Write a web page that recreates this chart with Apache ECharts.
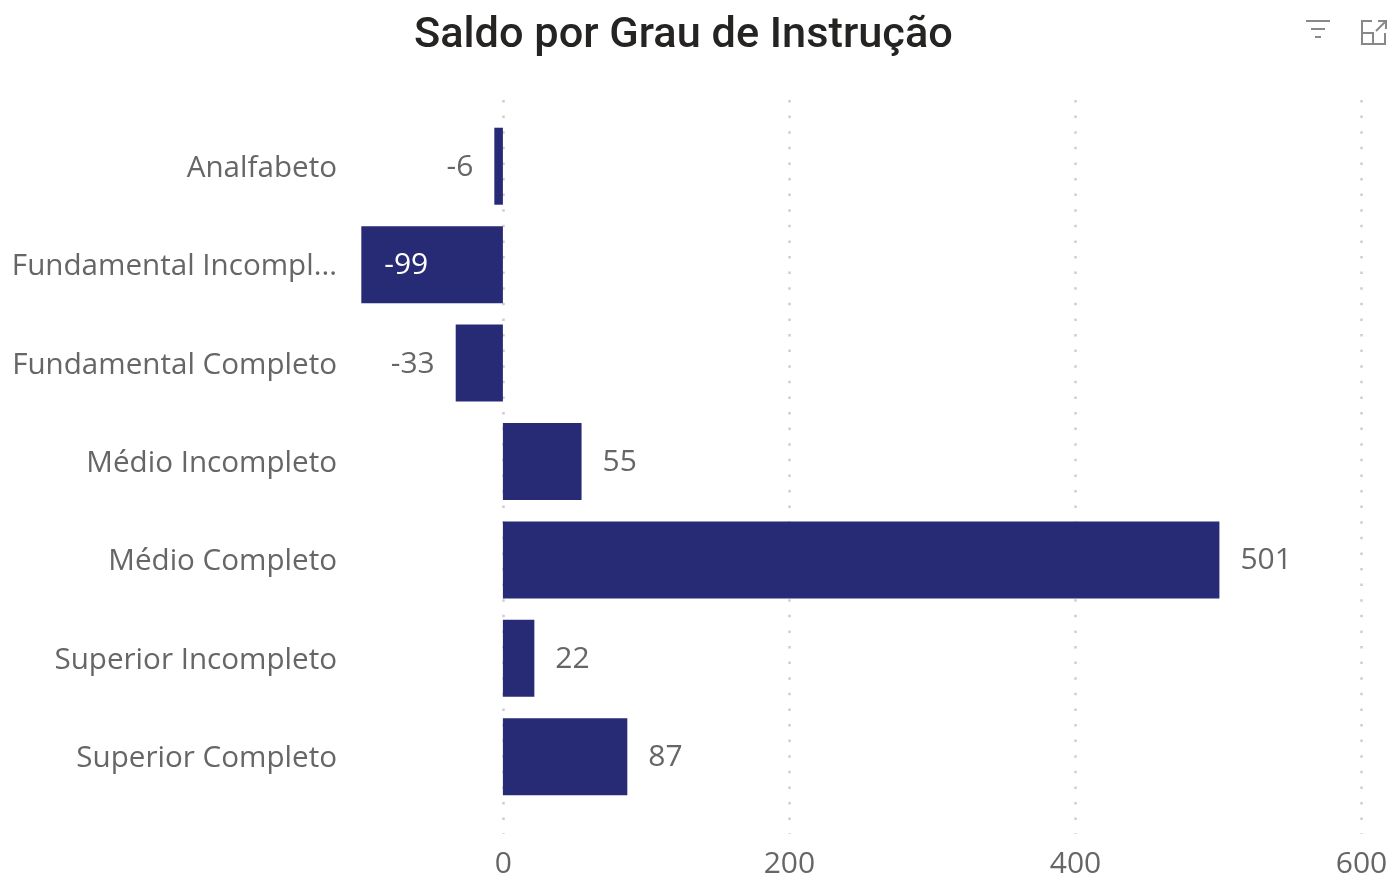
<!DOCTYPE html>
<html>
<head>
<meta charset="utf-8">
<title>Saldo por Grau de Instrução</title>
<script src="https://cdn.jsdelivr.net/npm/echarts@6/dist/echarts.min.js"></script>
<style>
  html, body { margin: 0; padding: 0; background: #fff; }
  #chart { width: 1391px; height: 878px; }
</style>
</head>
<body>
<div id="chart"></div>
<script>
const categories = ['Analfabeto', 'Fundamental Incompleto', 'Fundamental Completo', 'Médio Incompleto', 'Médio Completo', 'Superior Incompleto', 'Superior Completo'];
const saldo = [-6, -99, -33, 55, 501, 22, 87];
const xTicks = [0, 200, 400, 600];

const labelFont = '"Open Sans", "Noto Sans", sans-serif';
const textColor = '#666666';
const barColor = '#272a75';
const iconColor = '#8a8886';
// the plot starts at the end of the category labels, left of the -99 bar
const xMin = -116;
const xMax = 600;

// the bar that is long enough carries its label inside, in white
function barLabel(value) {
  if (value <= -90) return { position: 'insideLeft', distance: 23, color: '#ffffff' };
  return { position: value < 0 ? 'left' : 'right', color: textColor };
}

function iconLine(x1, y1, x2, y2) {
  return { type: 'line', shape: { x1: x1, y1: y1, x2: x2, y2: y2 }, style: { stroke: iconColor, lineWidth: 2 } };
}

const chart = echarts.init(document.getElementById('chart'));
chart.setOption({
  animation: false,
  backgroundColor: '#ffffff',
  title: {
    text: 'Saldo por Grau de Instrução',
    left: 409,
    top: 10,
    textStyle: { fontFamily: 'Roboto', fontWeight: 500, fontSize: 43.3, color: '#252423' }
  },
  grid: [
    // the dotted lines run past the bars, so they get their own taller grid
    { left: 337.5, right: 29.5, top: 100, height: 734, outerBoundsMode: 'none' },
    { left: 337, right: 30, top: 117, height: 689, outerBoundsMode: 'none' }
  ],
  xAxis: [
    {
      gridIndex: 0,
      type: 'value',
      min: xMin,
      max: xMax,
      axisLine: { show: false },
      axisTick: { show: false, customValues: xTicks },
      splitLine: { show: true, lineStyle: { color: '#d0cecc', width: 2.5, type: [2.5, 13.1] } },
      axisLabel: { customValues: xTicks, margin: 15, color: textColor, fontFamily: labelFont, fontSize: 30 }
    },
    { gridIndex: 1, type: 'value', min: xMin, max: xMax, show: false, splitLine: { show: false } }
  ],
  yAxis: [
    { gridIndex: 0, type: 'category', data: categories, show: false },
    {
      gridIndex: 1,
      type: 'category',
      data: categories,
      inverse: true,
      axisLine: { show: false },
      axisTick: { show: false },
      axisLabel: {
        margin: 0,
        width: 330,
        overflow: 'truncate',
        ellipsis: '...',
        verticalAlign: 'top',
        padding: [-13, 0, 0, 0],
        color: textColor,
        fontFamily: labelFont,
        fontSize: 29.6
      }
    }
  ],
  series: [
    {
      type: 'bar',
      xAxisIndex: 1,
      yAxisIndex: 1,
      barWidth: 77,
      itemStyle: { color: barColor },
      label: { show: true, distance: 21, offset: [0, 1], fontFamily: labelFont, fontSize: 30 },
      data: saldo.map(function (v) {
        return { value: v, label: barLabel(v) };
      })
    }
  ],
  graphic: [
    // filter icon
    iconLine(1306, 21, 1330, 21),
    iconLine(1311, 29, 1325, 29),
    iconLine(1315, 37, 1321, 37),
    // focus mode icon
    { type: 'polyline', shape: { points: [[1372, 21], [1362, 21], [1362, 44], [1385, 44], [1385, 33]] }, style: { stroke: iconColor, lineWidth: 2, fill: null } },
    { type: 'polyline', shape: { points: [[1362, 33], [1373, 33], [1373, 44]] }, style: { stroke: iconColor, lineWidth: 2, fill: null } },
    iconLine(1376, 31, 1385, 22),
    { type: 'polyline', shape: { points: [[1378, 21], [1386, 21], [1386, 29]] }, style: { stroke: iconColor, lineWidth: 2, fill: null } }
  ]
});
</script>
</body>
</html>
